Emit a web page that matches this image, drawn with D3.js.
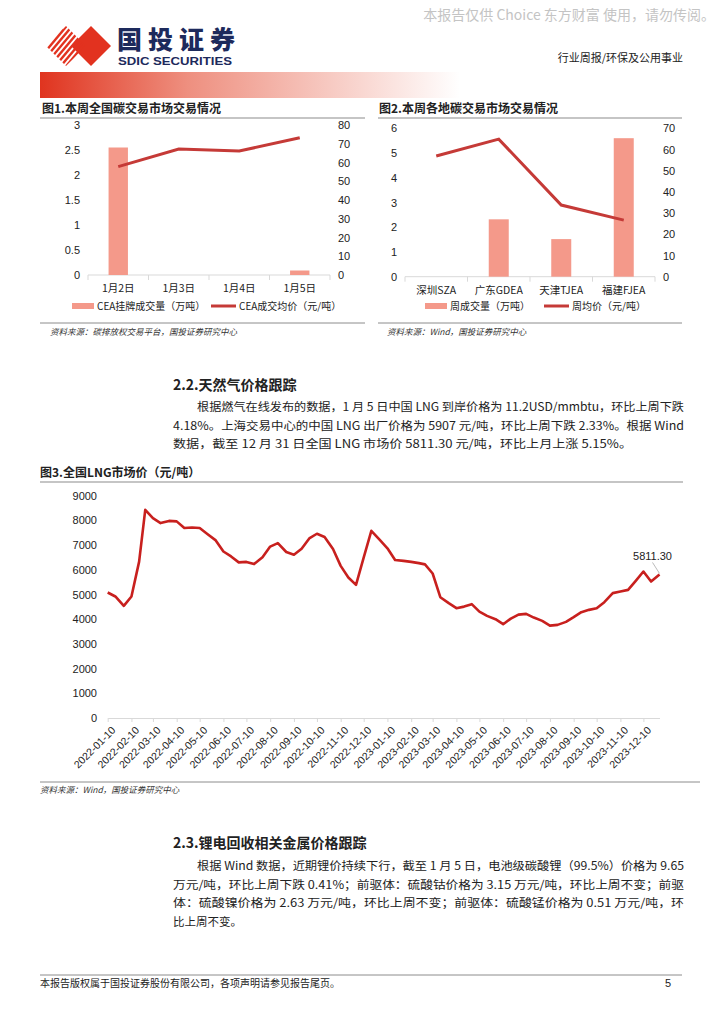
<!DOCTYPE html>
<html lang="zh">
<head>
<meta charset="UTF-8">
<title>国投证券 行业周报</title>
<style>
  body { margin: 0; background: #fff; }
  svg { display: block; }
  .cn { font-family: "Noto Sans CJK SC", sans-serif; }
  .num { font-family: "Liberation Sans", Arial, sans-serif; }
  .axis text { font-family: "Liberation Sans", Arial, sans-serif; fill: #222; }
</style>
</head>
<body>
<svg id="page" width="724" height="1024"></svg>
<script src="https://d3js.org/d3.v7.min.js"></script>
<script>
// 图1 本周全国碳交易市场
const ceaDays = ['1月2日', '1月3日', '1月4日', '1月5日'];
const ceaVolume = [2.55, 0, 0, 0.09];
const ceaPrice = [57.8, 67.2, 66.1, 73.2];
const ceaLeftTicks = [0, 0.5, 1, 1.5, 2, 2.5, 3];
const ceaRightTicks = [0, 10, 20, 30, 40, 50, 60, 70, 80];

// 图2 各地碳交易市场
const regions = ['深圳SZA', '广东GDEA', '天津TJEA', '福建FJEA'];
const regionVolume = [0, 2.32, 1.52, 5.6];
const regionPrice = [56.9, 64.9, 33.8, 26.7];
const regionLeftTicks = [0, 1, 2, 3, 4, 5, 6];
const regionRightTicks = [0, 10, 20, 30, 40, 50, 60, 70];

// 图3 全国LNG市场价
const lngDates = [
  '2022-01-10', '2022-01-20', '2022-01-31', '2022-02-10', '2022-02-20', '2022-02-28',
  '2022-03-10', '2022-03-20', '2022-03-31', '2022-04-10', '2022-04-20', '2022-04-30',
  '2022-05-10', '2022-05-20', '2022-05-31', '2022-06-10', '2022-06-20', '2022-06-30',
  '2022-07-10', '2022-07-20', '2022-07-31', '2022-08-10', '2022-08-20', '2022-08-31',
  '2022-09-10', '2022-09-20', '2022-09-30', '2022-10-10', '2022-10-20', '2022-10-31',
  '2022-11-10', '2022-11-20', '2022-11-30', '2022-12-10', '2022-12-20', '2022-12-31',
  '2023-01-10', '2023-01-20', '2023-01-31', '2023-02-10', '2023-02-20', '2023-02-28',
  '2023-03-10', '2023-03-20', '2023-03-31', '2023-04-10', '2023-04-20', '2023-04-30',
  '2023-05-10', '2023-05-20', '2023-05-31', '2023-06-10', '2023-06-20', '2023-06-30',
  '2023-07-10', '2023-07-20', '2023-07-31', '2023-08-10', '2023-08-20', '2023-08-31',
  '2023-09-10', '2023-09-20', '2023-09-30', '2023-10-10', '2023-10-20', '2023-10-31',
  '2023-11-10', '2023-11-20', '2023-11-30', '2023-12-10', '2023-12-20', '2023-12-31'
];
const lngPrice = [
  5080, 4920, 4540, 4920, 6330, 8430,
  8090, 7890, 7980, 7960, 7690, 7710,
  7690, 7450, 7190, 6740, 6540, 6300,
  6320, 6230, 6510, 6940, 7080, 6720,
  6610, 6850, 7270, 7460, 7330, 6840,
  6160, 5690, 5390, 6490, 7580, 7215,
  6870, 6400, 6360, 6320, 6270, 6220,
  5850, 4890, 4650, 4446, 4510, 4608,
  4309, 4135, 4000, 3798, 4025, 4187,
  4216, 4066, 3932, 3741, 3770, 3891,
  4082, 4285, 4378, 4446, 4690, 5055,
  5120, 5188, 5553, 5930, 5525, 5811.30
];
const lngTickDates = [
  '2022-01-10', '2022-02-10', '2022-03-10', '2022-04-10', '2022-05-10', '2022-06-10',
  '2022-07-10', '2022-08-10', '2022-09-10', '2022-10-10', '2022-11-10', '2022-12-10',
  '2023-01-10', '2023-02-10', '2023-03-10', '2023-04-10', '2023-05-10', '2023-06-10',
  '2023-07-10', '2023-08-10', '2023-09-10', '2023-10-10', '2023-11-10', '2023-12-10'
];
const lngYTicks = [0, 1000, 2000, 3000, 4000, 5000, 6000, 7000, 8000, 9000];

const barColor = '#f4998a';
const lineColor = '#c53a37';
const lngColor = '#c8201e';
const gridGray = '#d9d9d9';

const svg = d3.select('#page');

// ---------- 页眉 ----------
svg.append('text').attr('class', 'cn')
  .attr('x', 715).attr('y', 20).attr('text-anchor', 'end')
  .attr('font-size', 14).attr('fill', '#c4c4c4')
  .text('本报告仅供 Choice 东方财富 使用，请勿传阅。');

const logo = svg.append('g');
logo.append('path')
  .attr('d', 'M91,26 L111,46 L91,66 L71,46 Z')
  .attr('fill', '#e2321f');
const defs = svg.append('defs');
defs.append('clipPath').attr('id', 'logoClip')
  .append('path').attr('d', 'M66,26 L86,46 L66,66 L46,46 Z M48,38 L60,26 L70,36 L56,50 Z');
const stripes = logo.append('g').attr('clip-path', 'url(#logoClip)');
d3.range(8).forEach(i => {
  stripes.append('line')
    .attr('x1', 30 + i * 5.5).attr('y1', 70)
    .attr('x2', 70 + i * 5.5).attr('y2', 22)
    .attr('stroke', '#e2321f').attr('stroke-width', 2.4);
});
logo.append('text').attr('class', 'cn')
  .attr('x', 117).attr('y', 49).attr('font-size', 25).attr('font-weight', 900)
  .attr('fill', '#1d2a5c').attr('textLength', 118).text('国投证券');
logo.append('text').attr('class', 'num')
  .attr('x', 118).attr('y', 65).attr('font-size', 11.5).attr('font-weight', 'bold')
  .attr('fill', '#1d2a5c').attr('textLength', 114).attr('lengthAdjust', 'spacingAndGlyphs')
  .text('SDIC SECURITIES');

svg.append('text').attr('class', 'cn')
  .attr('x', 683).attr('y', 62).attr('text-anchor', 'end')
  .attr('font-size', 11).attr('fill', '#222')
  .text('行业周报/环保及公用事业');

const grad = defs.append('linearGradient').attr('id', 'hdrGrad');
grad.append('stop').attr('offset', '0%').attr('stop-color', '#e0341f');
grad.append('stop').attr('offset', '35%').attr('stop-color', '#ee8f7f');
grad.append('stop').attr('offset', '100%').attr('stop-color', '#ffffff');
svg.append('rect').attr('x', 40).attr('y', 72).attr('width', 420).attr('height', 26)
  .attr('fill', 'url(#hdrGrad)');

// ---------- 组合图（柱 + 折线，双轴） ----------
function comboChart(opt) {
  const g = svg.append('g');
  g.append('text').attr('class', 'cn')
    .attr('x', opt.titleX).attr('y', 113).attr('font-size', 12).attr('font-weight', 'bold')
    .attr('fill', '#222').text(opt.title);
  g.append('line').attr('x1', opt.frame[0]).attr('x2', opt.frame[1])
    .attr('y1', 118).attr('y2', 118).attr('stroke', '#8c8c8c').attr('stroke-width', 1.2);

  const x = d3.scaleBand().domain(opt.cats).range(opt.xRange);
  const yL = d3.scaleLinear().domain(opt.leftDomain).range(opt.yRange);
  const yR = d3.scaleLinear().domain(opt.rightDomain).range(opt.yRange);

  const axL = g.append('g').attr('class', 'axis')
    .attr('transform', `translate(${opt.xRange[0] - 8},0)`)
    .call(d3.axisLeft(yL).tickValues(opt.leftTicks).tickFormat(d => String(d))
      .tickSize(0).tickPadding(0));
  axL.select('.domain').remove();
  axL.selectAll('text').attr('font-size', 11);

  const axR = g.append('g').attr('class', 'axis')
    .attr('transform', `translate(${opt.xRange[1] + 8},0)`)
    .call(d3.axisRight(yR).tickValues(opt.rightTicks).tickFormat(d => String(d))
      .tickSize(0).tickPadding(0));
  axR.select('.domain').remove();
  axR.selectAll('text').attr('font-size', 11);

  const y0 = opt.yRange[0];
  g.append('line').attr('x1', opt.xRange[0]).attr('x2', opt.xRange[1])
    .attr('y1', y0).attr('y2', y0).attr('stroke', gridGray);
  const bounds = opt.cats.map(c => x(c)).concat([opt.xRange[1]]);
  g.selectAll('.bt').data(bounds).enter().append('line')
    .attr('x1', d => d).attr('x2', d => d).attr('y1', y0).attr('y2', y0 + 5)
    .attr('stroke', gridGray);

  g.selectAll('.cat').data(opt.cats).enter().append('text').attr('class', 'cn')
    .attr('x', d => x(d) + x.bandwidth() / 2).attr('y', y0 + 17)
    .attr('text-anchor', 'middle').attr('font-size', 10.5).attr('fill', '#222')
    .text(d => d);

  const bw = x.bandwidth() * 0.32;
  g.selectAll('.bar').data(opt.volume).enter().append('rect')
    .attr('x', (d, i) => x(opt.cats[i]) + x.bandwidth() / 2 - bw / 2)
    .attr('y', d => yL(d)).attr('width', bw)
    .attr('height', d => y0 - yL(d)).attr('fill', barColor);

  const line = d3.line()
    .x((d, i) => x(opt.cats[i]) + x.bandwidth() / 2)
    .y(d => yR(d));
  g.append('path').datum(opt.price).attr('d', line)
    .attr('fill', 'none').attr('stroke', lineColor).attr('stroke-width', 3);

  // 图例
  const ly = 306;
  g.append('rect').attr('x', opt.legendX[0]).attr('y', ly - 3).attr('width', 22).attr('height', 6)
    .attr('fill', barColor);
  g.append('text').attr('class', 'cn').attr('x', opt.legendX[0] + 25).attr('y', ly + 4)
    .attr('font-size', 10).attr('fill', '#222').text(opt.legend[0]);
  g.append('line').attr('x1', opt.legendX[1]).attr('x2', opt.legendX[1] + 25)
    .attr('y1', ly).attr('y2', ly).attr('stroke', lineColor).attr('stroke-width', 3);
  g.append('text').attr('class', 'cn').attr('x', opt.legendX[1] + 28).attr('y', ly + 4)
    .attr('font-size', 10).attr('fill', '#222').text(opt.legend[1]);

  g.append('line').attr('x1', opt.frame[0]).attr('x2', opt.frame[1])
    .attr('y1', 323).attr('y2', 323).attr('stroke', '#8c8c8c').attr('stroke-width', 1);
  g.append('text').attr('class', 'cn')
    .attr('x', opt.titleX + 8).attr('y', 335).attr('font-size', 8.5).attr('font-style', 'italic')
    .attr('fill', '#333').text(opt.source);
}

comboChart({
  title: '图1.本周全国碳交易市场交易情况', titleX: 42, frame: [40, 365],
  cats: ceaDays, volume: ceaVolume, price: ceaPrice,
  xRange: [88, 330], yRange: [275, 125],
  leftDomain: [0, 3], rightDomain: [0, 80],
  leftTicks: ceaLeftTicks, rightTicks: ceaRightTicks,
  legendX: [72, 211], legend: ['CEA挂牌成交量（万吨）', 'CEA成交均价（元/吨）'],
  source: '资料来源：碳排放权交易平台，国投证券研究中心'
});

comboChart({
  title: '图2.本周各地碳交易市场交易情况', titleX: 379, frame: [378, 682],
  cats: regions, volume: regionVolume, price: regionPrice,
  xRange: [405, 655], yRange: [276.7, 128.3],
  leftDomain: [0, 6], rightDomain: [0, 70],
  leftTicks: regionLeftTicks, rightTicks: regionRightTicks,
  legendX: [425, 544], legend: ['周成交量（万吨）', '周均价（元/吨）'],
  source: '资料来源：Wind，国投证券研究中心'
});

// ---------- 正文 ----------
function paragraph(lines, y0, step) {
  lines.forEach((l, i) => {
    const t = svg.append('text').attr('class', 'cn')
      .attr('x', l.x).attr('y', y0 + i * step)
      .attr('font-size', 11.5).attr('fill', '#222').text(l.t);
    if (l.w) t.attr('textLength', l.w).attr('lengthAdjust', 'spacingAndGlyphs');
  });
}

svg.append('text').attr('class', 'cn').attr('x', 173).attr('y', 390)
  .attr('font-size', 14).attr('font-weight', 'bold').attr('fill', '#222')
  .text('2.2.天然气价格跟踪');
paragraph([
  { x: 197, w: 487, t: '根据燃气在线发布的数据，1 月 5 日中国 LNG 到岸价格为 11.2USD/mmbtu，环比上周下跌' },
  { x: 173, w: 511, t: '4.18%。上海交易中心的中国 LNG 出厂价格为 5907 元/吨，环比上周下跌 2.33%。根据 Wind' },
  { x: 173, w: 459, t: '数据，截至 12 月 31 日全国 LNG 市场价 5811.30 元/吨，环比上月上涨 5.15%。' }
], 411, 18.5);

svg.append('text').attr('class', 'cn').attr('x', 173).attr('y', 848)
  .attr('font-size', 14).attr('font-weight', 'bold').attr('fill', '#222')
  .text('2.3.锂电回收相关金属价格跟踪');
paragraph([
  { x: 197, w: 487, t: '根据 Wind 数据，近期锂价持续下行，截至 1 月 5 日，电池级碳酸锂（99.5%）价格为 9.65' },
  { x: 173, w: 511, t: '万元/吨，环比上周下跌 0.41%；前驱体：硫酸钴价格为 3.15 万元/吨，环比上周不变；前驱' },
  { x: 173, w: 511, t: '体：硫酸镍价格为 2.63 万元/吨，环比上周不变；前驱体：硫酸锰价格为 0.51 万元/吨，环' },
  { x: 173, t: '比上周不变。' }
], 870, 18.5);

// ---------- 图3 LNG ----------
svg.append('text').attr('class', 'cn').attr('x', 40).attr('y', 477)
  .attr('font-size', 12).attr('font-weight', 'bold').attr('fill', '#222')
  .text('图3.全国LNG市场价（元/吨）');
svg.append('line').attr('x1', 40).attr('x2', 683).attr('y1', 482).attr('y2', 482)
  .attr('stroke', '#8c8c8c').attr('stroke-width', 1.2);

const parse = d3.timeParse('%Y-%m-%d');
const lngData = lngDates.map((d, i) => ({ date: parse(d), value: lngPrice[i] }));

const x3 = d3.scaleTime()
  .domain([parse('2022-01-10'), parse('2023-12-31')])
  .range([107.7, 659.5]);
const y3 = d3.scaleLinear().domain([0, 9000]).range([718, 495.7]);

const gy3 = svg.append('g').attr('class', 'axis')
  .attr('transform', 'translate(97,0)')
  .call(d3.axisLeft(y3).tickValues(lngYTicks).tickFormat(d => String(d))
    .tickSize(0).tickPadding(0));
gy3.select('.domain').remove();
gy3.selectAll('text').attr('font-size', 11);

const gx3 = svg.append('g').attr('class', 'axis')
  .attr('transform', 'translate(0,718)')
  .call(d3.axisBottom(x3).tickValues(lngTickDates.map(parse))
    .tickFormat(d3.timeFormat('%Y-%m-%d')).tickSize(4).tickSizeOuter(0));
gx3.select('.domain').attr('stroke', gridGray);
gx3.selectAll('.tick line').attr('stroke', gridGray);
gx3.selectAll('.tick text')
  .attr('font-size', 10.5)
  .attr('text-anchor', 'end')
  .attr('dx', 0).attr('dy', 0)
  .attr('transform', 'translate(3,8) rotate(-45)');

svg.append('path').datum(lngData)
  .attr('d', d3.line().x(d => x3(d.date)).y(d => y3(d.value)))
  .attr('fill', 'none').attr('stroke', lngColor).attr('stroke-width', 2.6)
  .attr('stroke-linejoin', 'round');

const last = lngData[lngData.length - 1];
svg.append('line')
  .attr('x1', x3(last.date) - 7).attr('y1', y3(last.value) - 12)
  .attr('x2', x3(last.date)).attr('y2', y3(last.value) - 1)
  .attr('stroke', '#aaa').attr('stroke-width', 0.8);
svg.append('text').attr('class', 'num')
  .attr('x', x3(last.date) - 7).attr('y', y3(last.value) - 14)
  .attr('text-anchor', 'middle').attr('font-size', 11).attr('fill', '#222')
  .text(d3.format('.2f')(last.value));

svg.append('line').attr('x1', 40).attr('x2', 700).attr('y1', 782).attr('y2', 782)
  .attr('stroke', '#8c8c8c').attr('stroke-width', 1);
svg.append('text').attr('class', 'cn').attr('x', 40).attr('y', 793)
  .attr('font-size', 8.5).attr('font-style', 'italic').attr('fill', '#333')
  .text('资料来源：Wind，国投证券研究中心');

// ---------- 页脚 ----------
svg.append('line').attr('x1', 40).attr('x2', 682).attr('y1', 975).attr('y2', 975)
  .attr('stroke', '#8c8c8c').attr('stroke-width', 1);
svg.append('text').attr('class', 'cn').attr('x', 40).attr('y', 987)
  .attr('font-size', 10).attr('fill', '#222')
  .text('本报告版权属于国投证券股份有限公司，各项声明请参见报告尾页。');
svg.append('text').attr('class', 'num').attr('x', 671).attr('y', 987)
  .attr('text-anchor', 'end').attr('font-size', 11).attr('fill', '#222').text('5');
</script>
</body>
</html>
